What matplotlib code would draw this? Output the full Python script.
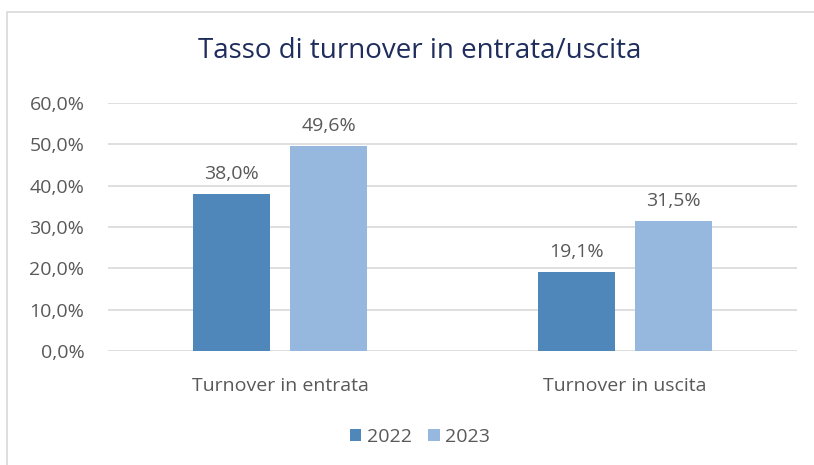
import numpy as np
import matplotlib.pyplot as plt
from matplotlib.patches import Rectangle
from matplotlib.ticker import FuncFormatter

categories = ['Turnover in entrata', 'Turnover in uscita']
years = ['2022', '2023']
values_2022 = [38.0, 19.1]
values_2023 = [49.6, 31.5]
yticks = [0, 10, 20, 30, 40, 50, 60]

plt.rcParams['font.family'] = ['Open Sans', 'DejaVu Sans']
text_col = '#595959'
col_2022 = '#4F87BA'
col_2023 = '#97B8DE'

fig = plt.figure(figsize=(8.14, 4.65), dpi=100)
# bordo del grafico
fig.patches.append(Rectangle((7 / 814, -0.01), 1.0, 1 - 12 / 465 + 0.01,
                             transform=fig.transFigure, fill=False,
                             edgecolor='#D9D9D9', linewidth=1.2))

ax = fig.add_axes([108 / 814, 1 - 351 / 465, 689 / 814, 248 / 465])

x = np.arange(len(categories))
w = 0.2235
gap = 0.058
b1 = ax.bar(x - (w + gap) / 2, values_2022, w, color=col_2022, label=years[0], zorder=3)
b2 = ax.bar(x + (w + gap) / 2, values_2023, w, color=col_2023, label=years[1], zorder=3)

for bars, vals in ((b1, values_2022), (b2, values_2023)):
    for b, v in zip(bars, vals):
        ax.annotate(f'{v:.1f}%'.replace('.', ','), (b.get_x() + b.get_width() / 2, v),
                    xytext=(0, 8), textcoords='offset points', ha='center', va='bottom',
                    fontsize=14, color=text_col)

ax.set_xlim(-0.5, 1.5)
ax.set_ylim(0, 60)
ax.set_yticks(yticks)
ax.yaxis.set_major_formatter(FuncFormatter(lambda v, p: f'{v:.1f}%'.replace('.', ',')))
ax.set_xticks(x)
ax.set_xticklabels(categories)
ax.grid(axis='y', color='#D9D9D9', linewidth=1.2, zorder=0)
for s in ax.spines.values():
    s.set_visible(False)
ax.tick_params(length=0, labelsize=14, labelcolor=text_col)
ax.tick_params(axis='x', pad=19)
ax.tick_params(axis='y', pad=17)

fig.text(420 / 814, 1 - 51 / 465, 'Tasso di turnover in entrata/uscita',
         ha='center', va='center', fontsize=20, color='#1F2D5C')

fig.legend(loc='center', bbox_to_anchor=(420 / 814, 1 - 437 / 465), ncol=2,
           frameon=False, fontsize=14, labelcolor=text_col, handlelength=0.6,
           handleheight=0.6, handletextpad=0.3, columnspacing=0.8)

plt.savefig('out.png', dpi=100)
